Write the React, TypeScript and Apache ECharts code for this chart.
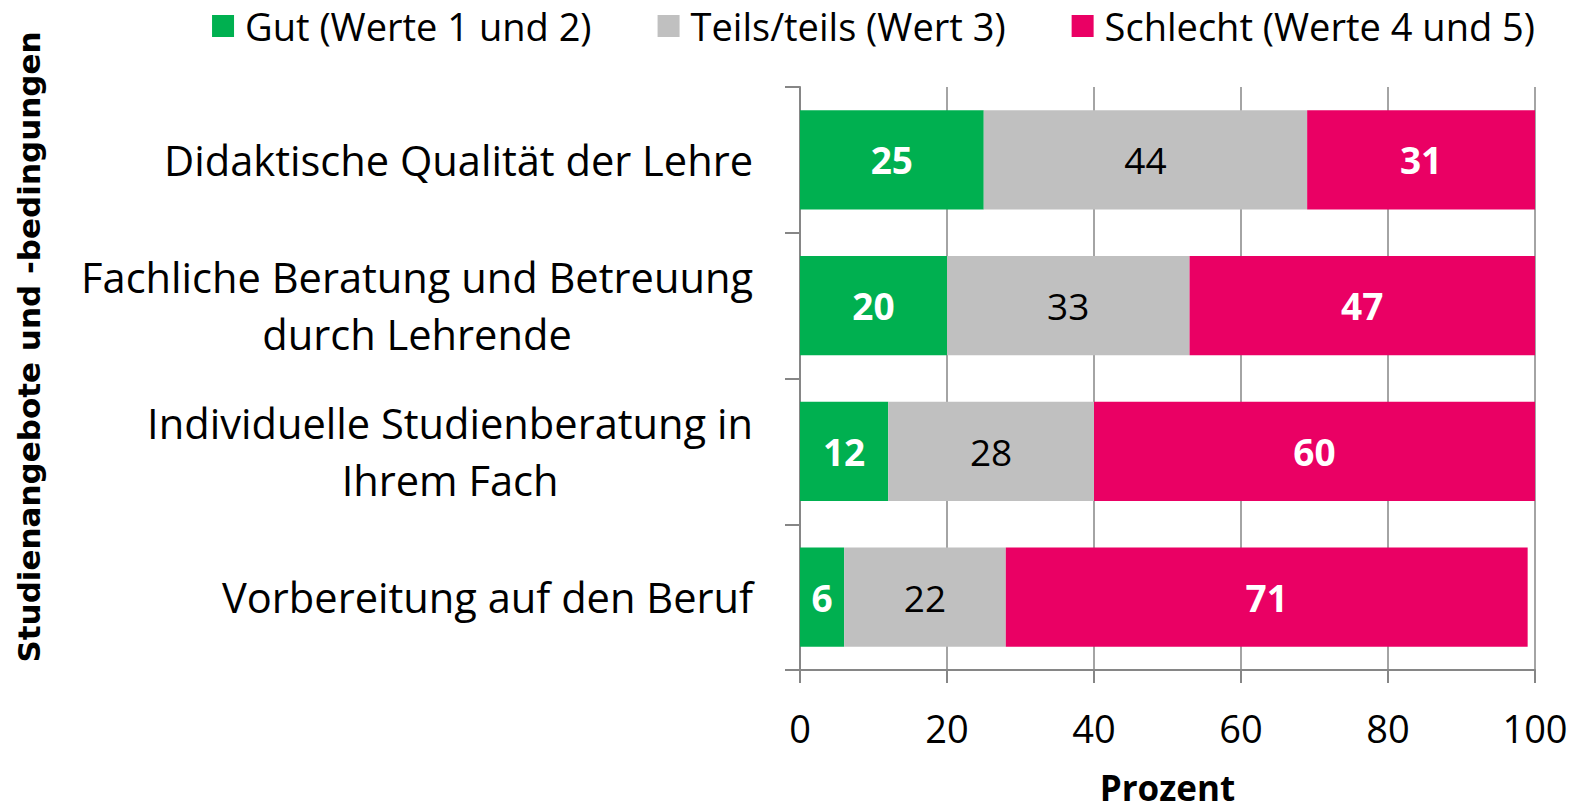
import React, { useEffect, useRef } from "react";
import * as echarts from "echarts";

const categories = [
  "Didaktische Qualität der Lehre",
  "Fachliche Beratung und Betreuung\ndurch Lehrende",
  "Individuelle Studienberatung in\nIhrem Fach",
  "Vorbereitung auf den Beruf",
];
const seriesNames = ["Gut (Werte 1 und 2)", "Teils/teils (Wert 3)", "Schlecht (Werte 4 und 5)"];
const gutValues = [25, 20, 12, 6];
const teilsValues = [44, 33, 28, 22];
const schlechtValues = [31, 47, 60, 71];
const xTicks = [0, 20, 40, 60, 80, 100];
const yAxisTitle = "Studienangebote und -bedingungen";
const xAxisTitle = "Prozent";

const FONT = "'Open Sans', sans-serif";
const CAT_SIZE = 41.6;
const colors = ["#00B050", "#C0C0C0", "#EA0064"];

function measure(text: string, size: number): number {
  const c = document.createElement("canvas").getContext("2d");
  if (!c) return text.length * size * 0.55;
  c.font = `${size}px 'Open Sans', sans-serif`;
  return c.measureText(text).width;
}

export default function App() {
  const ref = useRef<HTMLDivElement>(null);
  useEffect(() => {
    document.body.style.margin = "0";
    if (!ref.current) return;
    const chart = echarts.init(ref.current, undefined, { renderer: "svg" });
    const dataSets = [gutValues, teilsValues, schlechtValues];
    const rich: any = {};
    categories.forEach((cat, i) => {
      const w = Math.max(...cat.split("\n").map((l) => measure(l, CAT_SIZE))) + 2;
      rich["c" + i] = {
        width: w,
        align: "center",
        fontFamily: FONT,
        fontSize: CAT_SIZE,
        lineHeight: 57,
        color: "#000",
      };
    });
    const option: any = {
      animation: false,
      textStyle: { fontFamily: FONT },
      color: colors,
      legend: {
        top: 2,
        right: 47,
        itemWidth: 22,
        itemHeight: 22,
        itemGap: 66,
        icon: "rect",
        textStyle: {
          fontFamily: FONT,
          fontSize: 38,
          lineHeight: 38,
          color: "#000",
          padding: [0, 0, 0, 6],
        },
        data: seriesNames,
      },
      grid: { left: 800, right: 52, top: 87, bottom: 132 },
      xAxis: {
        type: "value",
        min: xTicks[0],
        max: xTicks[xTicks.length - 1],
        interval: 20,
        name: xAxisTitle,
        nameLocation: "middle",
        nameGap: 100,
        nameTextStyle: { fontFamily: FONT, fontSize: 35, fontWeight: "bold", color: "#000" },
        axisLine: { show: true, lineStyle: { color: "#868686", width: 2 } },
        axisTick: { show: true, length: 13, lineStyle: { color: "#868686", width: 2 } },
        axisLabel: { fontFamily: FONT, fontSize: 38, color: "#000", margin: 39 },
        splitLine: { show: true, lineStyle: { color: "#868686", width: 1.5 } },
      },
      yAxis: {
        type: "category",
        data: categories,
        inverse: true,
        axisLine: { show: true, lineStyle: { color: "#868686", width: 2 } },
        axisTick: { show: true, length: 15, lineStyle: { color: "#868686", width: 2 } },
        axisLabel: {
          fontFamily: FONT,
          fontSize: CAT_SIZE,
          color: "#000",
          margin: 46,
          lineHeight: 57,
          align: "right",
          formatter: (value: string, index: number) =>
            value
              .split("\n")
              .map((l) => `{c${index}|${l}}`)
              .join("\n"),
          rich,
        },
      },
      graphic: [
        {
          type: "text",
          x: 29,
          y: 347,
          rotation: Math.PI / 2,
          style: {
            text: yAxisTitle,
            fontFamily: "'DejaVu Sans', sans-serif",
            fontSize: 31,
            fontWeight: "bold",
            fill: "#000",
            align: "center",
            verticalAlign: "middle",
          },
        },
      ],
      series: seriesNames.map((name, i) => ({
        name,
        type: "bar",
        stack: "total",
        barCategoryGap: "32%",
        data: dataSets[i],
        itemStyle: { color: colors[i] },
        label: {
          show: true,
          position: "inside",
          fontFamily: FONT,
          fontSize: 37,
          fontWeight: i === 1 ? "normal" : "bold",
          color: i === 1 ? "#000" : "#fff",
        },
      })),
    };
    chart.setOption(option);
    return () => chart.dispose();
  }, []);
  return <div ref={ref} style={{ width: 1587, height: 810 }} />;
}
